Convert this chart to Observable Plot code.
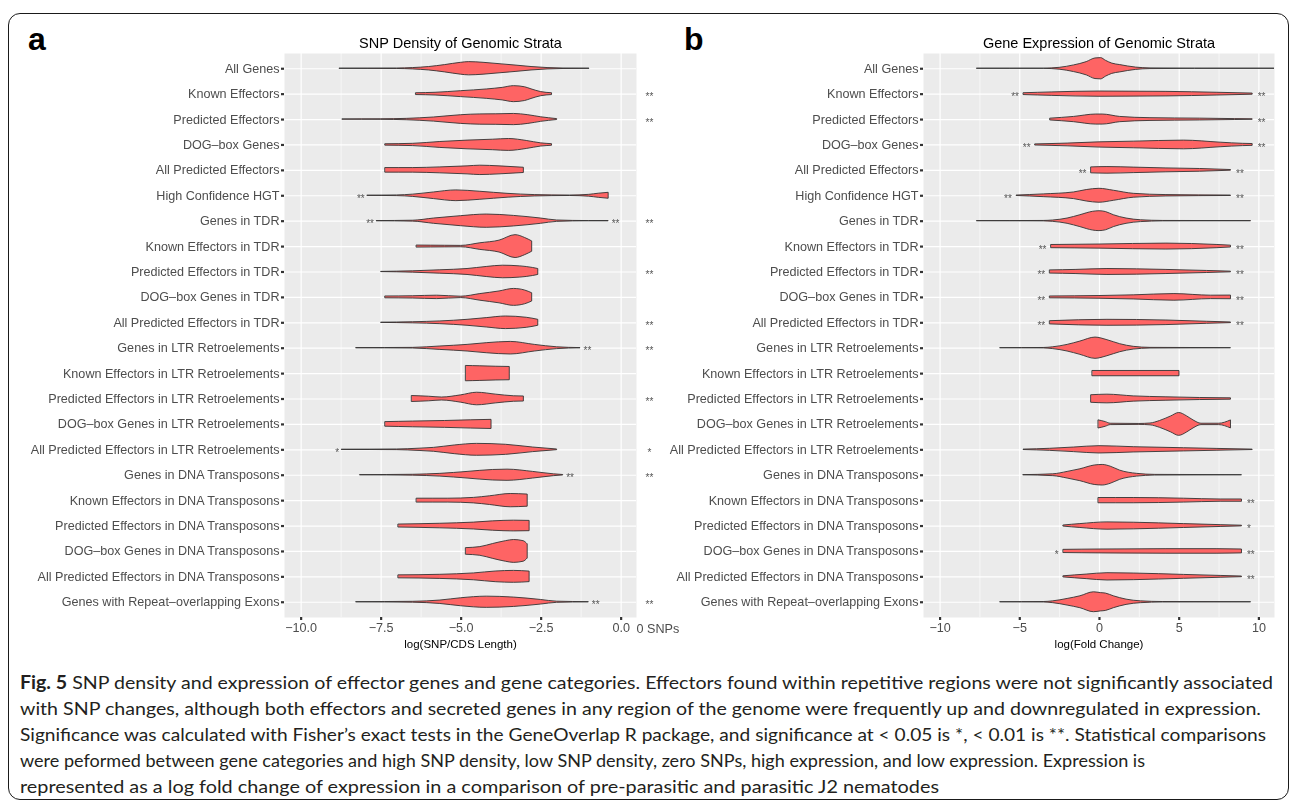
<!DOCTYPE html>
<html><head><meta charset="utf-8">
<script src="https://cdn.jsdelivr.net/npm/d3@7"></script>
<script src="https://cdn.jsdelivr.net/npm/@observablehq/plot@0.6"></script>
<style>
body{margin:0;background:#fff;width:1290px;height:805px;overflow:hidden;position:relative;font-family:"Liberation Sans",Arial,sans-serif}
#border{position:absolute;left:8px;top:13px;width:1281px;height:787px;border:1.6px solid #1a1a1a;border-radius:12px;box-sizing:border-box}
.plot{position:absolute;top:0;will-change:transform}
#overlay{position:absolute;left:0;top:0}
</style></head><body>
<div id="border"></div>
<svg id="overlay" width="1290" height="805"></svg>
<div id="pa" class="plot" style="left:0"></div>
<div id="pb" class="plot" style="left:640px"></div>
<script>
const categories = ["All Genes","Known Effectors","Predicted Effectors","DOG–box Genes","All Predicted Effectors","High Confidence HGT","Genes in TDR","Known Effectors in TDR","Predicted Effectors in TDR","DOG–box Genes in TDR","All Predicted Effectors in TDR","Genes in LTR Retroelements","Known Effectors in LTR Retroelements","Predicted Effectors in LTR Retroelements","DOG–box Genes in LTR Retroelements","All Predicted Effectors in LTR Retroelements","Genes in DNA Transposons","Known Effectors in DNA Transposons","Predicted Effectors in DNA Transposons","DOG–box Genes in DNA Transposons","All Predicted Effectors in DNA Transposons","Genes with Repeat–overlapping Exons"];

// violin outlines: [value, relative density] knots per category
const snpViolins = [
 [[-8.79,.01],[-7.0,.02],[-6.5,.06],[-6.0,.15],[-5.5,.32],[-5.0,.52],[-4.75,.58],[-4.3,.52],[-3.8,.4],[-3.3,.28],[-2.8,.15],[-2.3,.06],[-1.8,.02],[-0.99,.01]],
 [[-6.40,.08],[-5.8,.12],[-5.0,.26],[-4.2,.41],[-3.7,.55],[-3.35,.70],[-3.0,.6],[-2.8,.42],[-2.5,.18],[-2.16,.08]],
 [[-8.70,.01],[-7.5,.02],[-6.7,.06],[-5.85,.18],[-5.0,.38],[-4.4,.45],[-3.9,.46],[-3.35,.49],[-2.9,.38],[-2.5,.2],[-2.0,.04]],
 [[-7.36,.06],[-6.5,.1],[-5.65,.26],[-4.8,.38],[-4.0,.46],[-3.5,.52],[-2.95,.35],[-2.5,.14],[-2.16,.07]],
 [[-7.36,.2],[-6.5,.2],[-5.65,.26],[-4.8,.35],[-4.4,.41],[-3.8,.35],[-3.04,.23]],
 [[-7.92,.01],[-7.0,.03],[-6.5,.1],[-5.85,.29],[-5.15,.47],[-4.4,.35],[-3.55,.17],[-2.7,.06],[-1.6,.02],[-1.0,.08],[-0.7,.18],[-0.39,.26]],
 [[-7.63,.01],[-6.5,.04],[-5.85,.23],[-5.0,.44],[-4.2,.58],[-3.35,.46],[-2.5,.23],[-2.0,.06],[-1.0,.01],[-0.39,.01]],
 [[-6.38,.09],[-5.5,.07],[-5.0,.06],[-4.4,.29],[-3.8,.52],[-3.3,1.0],[-3.0,.75],[-2.78,.45]],
 [[-7.49,.01],[-6.5,.06],[-5.65,.15],[-4.8,.26],[-4.2,.44],[-3.7,.55],[-3.15,.49],[-2.75,.35],[-2.59,.26]],
 [[-7.36,.08],[-6.5,.1],[-5.75,.15],[-5.0,.06],[-4.4,.29],[-3.8,.52],[-3.35,.74],[-3.0,.6],[-2.78,.36]],
 [[-7.49,.01],[-6.5,.05],[-5.65,.12],[-4.8,.26],[-4.2,.41],[-3.6,.55],[-2.95,.44],[-2.59,.26]],
 [[-8.27,.01],[-6.5,.03],[-5.65,.15],[-4.8,.29],[-4.2,.44],[-3.45,.55],[-2.7,.29],[-2.0,.08],[-1.27,.01]],
 [[-4.84,.67],[-4.4,.64],[-3.9,.6],[-3.48,.58]],
 [[-6.53,.26],[-6.0,.2],[-5.6,.13],[-5.0,.32],[-4.5,.55],[-3.9,.38],[-3.35,.24],[-3.04,.22]],
 [[-7.36,.2],[-6.5,.25],[-5.5,.3],[-4.7,.36],[-4.05,.4]],
 [[-8.72,.01],[-7.0,.03],[-6.3,.1],[-5.85,.17],[-5.2,.38],[-4.5,.52],[-3.6,.44],[-2.75,.2],[-2.0,.03]],
 [[-8.15,.01],[-6.5,.04],[-5.65,.12],[-4.8,.29],[-4.0,.46],[-3.55,.49],[-2.75,.29],[-2.1,.08],[-1.81,.02]],
 [[-6.38,.17],[-5.4,.17],[-4.6,.24],[-4.1,.38],[-3.45,.58],[-2.92,.53]],
 [[-6.95,.13],[-5.65,.2],[-4.6,.3],[-4.0,.41],[-3.35,.47],[-2.86,.45]],
 [[-4.84,.29],[-4.4,.38],[-4.0,.65],[-3.6,.9],[-3.35,1.0],[-3.05,.9],[-2.92,.62]],
 [[-6.95,.13],[-5.65,.18],[-4.6,.3],[-3.9,.47],[-3.35,.52],[-2.86,.46]],
 [[-8.27,.01],[-6.5,.04],[-5.65,.15],[-5.0,.35],[-4.2,.49],[-3.35,.41],[-2.5,.2],[-2.0,.05],[-1.01,.01]]
];
const exprViolins = [
 [[-7.67,.005],[-3.5,.01],[-2.5,.08],[-1.6,.29],[-0.8,.58],[-0.25,.9],[0.1,.93],[0.4,.7],[0.8,.45],[1.3,.32],[2.3,.1],[3.2,.03],[6,.01],[10.98,.005]],
 [[-4.74,.08],[-3.0,.15],[0,.23],[4.2,.2],[7.4,.12],[9.61,.05]],
 [[-3.07,.08],[-1.6,.23],[-0.2,.44],[0.2,.44],[1.3,.23],[3.2,.12],[6.3,.08],[8.5,.04],[9.61,.02]],
 [[-4.01,.05],[-2.0,.12],[0,.23],[2.15,.29],[5.3,.38],[7.6,.2],[9.0,.1],[9.61,.08]],
 [[-0.5,.26],[0.5,.29],[2.15,.24],[4.2,.17],[6.3,.12],[8.25,.03]],
 [[-5.18,.02],[-3.5,.12],[-1.6,.29],[-0.8,.5],[0,.61],[0.9,.44],[2.15,.17],[4.2,.06],[8.25,.02]],
 [[-7.67,.005],[-3.5,.02],[-2.9,.06],[-2.0,.23],[-1.2,.52],[-0.4,.82],[0,.87],[0.4,.8],[0.9,.52],[1.7,.23],[2.6,.08],[4.0,.02],[9.51,.005]],
 [[-3.01,.14],[0,.18],[4.2,.26],[7.4,.14],[8.25,.08]],
 [[-3.09,.14],[-1.5,.18],[0.5,.26],[4.2,.18],[6.75,.09],[8.25,.03]],
 [[-3.09,.08],[0,.12],[2.15,.18],[4.7,.29],[7,.15],[8.25,.16]],
 [[-3.09,.14],[0.5,.26],[4.2,.2],[6.75,.09],[8.25,.03]],
 [[-6.21,.005],[-3.5,.02],[-2.9,.08],[-2.0,.29],[-1.2,.58],[-0.25,.93],[0.5,.7],[1.3,.35],[2.15,.12],[3.2,.03],[8.25,.005]],
 [[-0.42,.23],[5.02,.23]],
 [[-0.5,.33],[0.5,.38],[2.15,.23],[4.2,.15],[6.3,.09],[8.25,.06]],
 [[-0.04,.35],[0.4,.2],[0.7,.06],[2.5,.04],[3.2,.08],[3.8,.3],[4.5,.7],[5.0,1.0],[5.5,.7],[5.9,.35],[6.4,.06],[7.5,.06],[8.25,.35]],
 [[-4.74,.02],[-3.1,.09],[-1.6,.2],[0,.32],[2.15,.23],[5.3,.14],[7.4,.08],[9.61,.02]],
 [[-4.76,.01],[-2.9,.08],[-2.0,.29],[-1.2,.52],[-0.3,.85],[0.2,.9],[0.7,.75],[1.3,.4],[2.36,.12],[3.5,.03],[8.94,.005]],
 [[-0.04,.23],[2.15,.23],[5.3,.17],[7.6,.1],[8.94,.1]],
 [[-2.24,.05],[-1.2,.17],[0.5,.32],[2.15,.29],[5.3,.17],[7.6,.08],[8.94,.03]],
 [[-2.24,.14],[0,.17],[4.2,.2],[7.4,.2],[8.94,.17]],
 [[-2.24,.05],[-0.8,.2],[0.5,.32],[2.15,.29],[5.3,.17],[7.6,.08],[8.94,.03]],
 [[-6.21,.005],[-3.5,.02],[-2.9,.08],[-2.0,.29],[-1.2,.52],[-0.35,.87],[0.1,.8],[0.4,.76],[0.9,.52],[1.7,.23],[2.6,.08],[4.0,.02],[9.51,.005]]
];

// significance markers: [category index, label]
const snpLeft = [[5,"**"],[6,"**"],[15,"*"]];
const snpRight = [[6,"**"],[11,"**"],[16,"**"],[21,"**"]];
const snpZero = [[1,"**"],[2,"**"],[6,"**"],[8,"**"],[10,"**"],[11,"**"],[13,"**"],[15,"*"],[16,"**"],[21,"**"]];
const exprLeft = [[1,"**"],[3,"**"],[4,"**"],[5,"**"],[7,"**"],[8,"**"],[9,"**"],[10,"**"],[19,"*"]];
const exprRight = [[1,"**"],[2,"**"],[3,"**"],[4,"**"],[5,"**"],[7,"**"],[8,"**"],[9,"**"],[10,"**"],[17,"**"],[18,"*"],[19,"**"],[20,"**"]];

const snpTicks = [-10,-7.5,-5,-2.5,0];
const snpMinor = [-8.75,-6.25,-3.75,-1.25];
const exprTicks = [-10,-5,0,5,10];
const exprMinor = [-7.5,-2.5,2.5,7.5];

const titles = ["SNP Density of Genomic Strata","Gene Expression of Genomic Strata"];
const xLabels = ["log(SNP/CDS Length)","log(Fold Change)"];
const zeroLabel = "0 SNPs";
const captionLines = [
 ["Fig. 5"," SNP density and expression of effector genes and gene categories. Effectors found within repetitive regions were not significantly associated"],
 ["","with SNP changes, although both effectors and secreted genes in any region of the genome were frequently up and downregulated in expression."],
 ["","Significance was calculated with Fisher’s exact tests in the GeneOverlap R package, and significance at < 0.05 is *, < 0.01 is **. Statistical comparisons"],
 ["","were peformed between gene categories and high SNP density, low SNP density, zero SNPs, high expression, and low expression. Expression is"],
 ["","represented as a log fold change of expression in a comparison of pre-parasitic and parasitic J2 nematodes"]
];
const captionWidths = [1253,1241,1246,1125,919];

const rows = d3.range(categories.length);
const HALF = 0.45;
const FILL = "#fe6464";
const FONT = "'Liberation Sans', Arial, sans-serif";

function violinTable(v){
  return v.flatMap((knots,row)=>knots.map(([x,d])=>({row,x,lo:row-d*HALF,hi:row+d*HALF})));
}
function markers(list, v, side){
  return list.map(([row,label])=>({row,label,x: side==="left" ? v[row][0][0] : v[row][v[row].length-1][0]}));
}

function panel(opts){
  const {violins,domain,ticks,minor,fmt,left,right,zero,title,xlabel,width,marginLeft,marginRight,mdx} = opts;
  const marks = [
    Plot.frame({fill:"#ebebeb", stroke:"none"}),
    Plot.gridX(minor,{stroke:"#fff",strokeOpacity:1,strokeWidth:0.6}),
    Plot.gridX(ticks,{stroke:"#fff",strokeOpacity:1,strokeWidth:1.2}),
    Plot.gridY(rows,{stroke:"#fff",strokeOpacity:1,strokeWidth:1.2}),
    Plot.areaY(violinTable(violins),{x:"x",y1:"lo",y2:"hi",z:"row",fill:FILL,stroke:"#333",strokeWidth:0.9,curve:"monotone-x",clip:true}),
    Plot.axisX({ticks, tickFormat:fmt, tickSize:3, tickPadding:3, strokeWidth:2.2, stroke:"#333", fill:"#4d4d4d", label:null, fontSize:12.6}),
    Plot.axisY({ticks:rows, tickFormat:i=>categories[i], tickSize:3, tickPadding:2, strokeWidth:2.2, stroke:"#333", fill:"#4d4d4d", label:null, fontSize:12.6}),
    Plot.text(markers(left,violins,"left"),{x:"x",y:"row",text:"label",textAnchor:"end",dx:-mdx,dy:3,fill:"#555",fontSize:10}),
    Plot.text(markers(right,violins,"right"),{x:"x",y:"row",text:"label",textAnchor:"start",dx:mdx,dy:3,fill:"#555",fontSize:10}),
    Plot.text([title],{text:d=>d,frameAnchor:"top",dy:-16,fontSize:14.5,fill:"#000"}),
    Plot.text([xlabel],{text:d=>d,frameAnchor:"bottom",dy:30,fontSize:11.5,fill:"#000"})
  ];
  if (zero) {
    marks.push(Plot.text(zero,{y:d=>d[0],text:d=>d[1],frameAnchor:"right",textAnchor:"middle",dx:13,dy:3,fill:"#555",fontSize:10}));
    marks.push(Plot.text([zeroLabel],{text:d=>d,frameAnchor:"bottom-right",textAnchor:"start",dx:0,dy:15,fill:"#4d4d4d",fontSize:12.6}));
  }
  return Plot.plot({
    width, height:665, marginLeft, marginRight, marginTop:53, marginBottom:48,
    x:{domain}, y:{domain:[-0.6,21.6], reverse:true},
    style:{background:"transparent", fontFamily:FONT, fontSize:"12.6px", color:"#4d4d4d", overflow:"visible"},
    marks
  });
}

document.getElementById("pa").append(panel({
  violins:snpViolins, domain:[-10.52,0.48], ticks:snpTicks, minor:snpMinor, fmt:d3.format(".1f"),
  left:snpLeft, right:snpRight, zero:snpZero, title:titles[0], xlabel:xLabels[0],
  width:700, marginLeft:284, marginRight:64, mdx:3
}));
document.getElementById("pb").append(panel({
  violins:exprViolins, domain:[-11.04,10.98], ticks:exprTicks, minor:exprMinor, fmt:d3.format("d"),
  left:exprLeft, right:exprRight, zero:null, title:titles[1], xlabel:xLabels[1],
  width:650, marginLeft:283, marginRight:16, mdx:5
}));

// panel letters and caption
const ov = d3.select("#overlay");
ov.append("text").attr("x",28).attr("y",50).attr("font-family",FONT).attr("font-weight","bold").attr("font-size",32).text("a");
ov.append("text").attr("x",684).attr("y",50).attr("font-family",FONT).attr("font-weight","bold").attr("font-size",32).text("b");
const capTexts = captionLines.map((ln,i)=>{
  const t = ov.append("text").attr("x",20).attr("y",689+i*26)
    .attr("font-family","Lato, 'Noto Sans', sans-serif").attr("font-size",17).attr("fill","#231f20");
  if (ln[0]) t.append("tspan").attr("font-weight","bold").text(ln[0]);
  t.append("tspan").text(ln[1]);
  return t;
});
// pick a size at which no line is naturally wider than its span in the reference, then fit each line
const ratio = d3.min(capTexts, (t,i)=>captionWidths[i] / t.node().getComputedTextLength());
const fs = 17 * ratio;
capTexts.forEach((t,i)=>t.attr("font-size",fs).attr("textLength",captionWidths[i]).attr("lengthAdjust","spacingAndGlyphs"));
</script>
</body></html>
